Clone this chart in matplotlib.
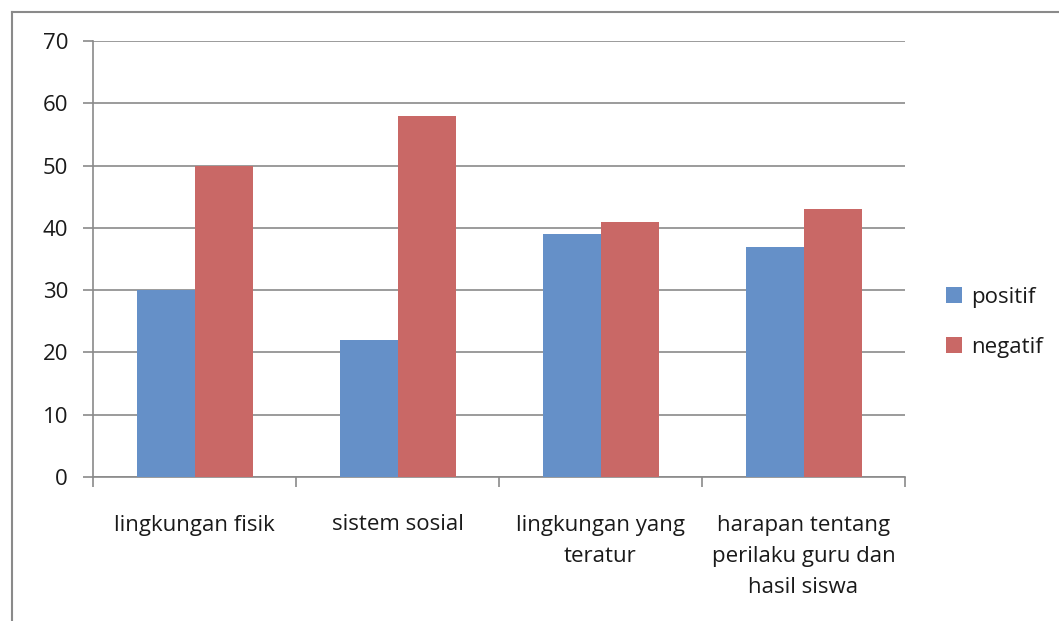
import matplotlib
matplotlib.use("Agg")
import matplotlib.pyplot as plt
import numpy as np
from matplotlib.lines import Line2D

categories = ["lingkungan fisik", "sistem sosial", "lingkungan yang\nteratur",
              "harapan tentang\nperilaku guru dan\nhasil siswa"]
positif = [30, 22, 39, 37]
negatif = [50, 58, 41, 43]
series_names = ["positif", "negatif"]
yticks = [0, 10, 20, 30, 40, 50, 60, 70]

plt.rcParams['font.family'] = ['Open Sans', 'DejaVu Sans']

W, H = 1059, 621
fig = plt.figure(figsize=(W / 100, H / 100), dpi=100)
fig.patch.set_facecolor("white")

# outer chart border (top and left visible)
fig.add_artist(Line2D([12 / W, 1.0], [1 - 12 / H, 1 - 12 / H], transform=fig.transFigure,
                      color="#8a8a8a", lw=1.5))
fig.add_artist(Line2D([12 / W, 12 / W], [0, 1 - 12 / H], transform=fig.transFigure,
                      color="#8a8a8a", lw=1.5))

ax = fig.add_axes([93 / W, 1 - 477 / H, (905 - 93) / W, (477 - 41) / H])
ax.set_facecolor("none")

x = np.arange(len(categories))
bw = 58 / 203
blue = "#6590C8"
red = "#C96866"
ax.bar(x - bw / 2, positif, width=bw, color=blue, label=series_names[0], zorder=3)
ax.bar(x + bw / 2, negatif, width=bw, color=red, label=series_names[1], zorder=3)

ax.set_xlim(-0.5, len(categories) - 0.5)
ax.set_ylim(0, 70)
ax.set_yticks(yticks)
ax.yaxis.grid(True, color="#8a8a8a", lw=1.2, zorder=0)
ax.set_axisbelow(True)

for s in ["top", "right"]:
    ax.spines[s].set_visible(False)
for s in ["left", "bottom"]:
    ax.spines[s].set_color("#8a8a8a")
    ax.spines[s].set_linewidth(1.2)

ax.tick_params(axis="y", length=7, color="#8a8a8a", width=1.2, labelsize=16, pad=11,
               labelcolor="#1a1a1a")
# category boundary ticks
ax.set_xticks(np.arange(len(categories) + 1) - 0.5)
ax.set_xticklabels([])
ax.tick_params(axis="x", length=7, color="#8a8a8a", width=1.2)
ax.set_xticks(x, minor=True)
ax.set_xticklabels(categories, minor=True, fontsize=16, color="#1a1a1a",
                   linespacing=1.65, va="top")
ax.tick_params(axis="x", which="minor", length=0, pad=27)

leg = ax.legend(loc="center left", bbox_to_anchor=(1.04, 0.355), frameon=False,
                fontsize=16, handlelength=0.7, handleheight=0.7, handletextpad=0.4,
                labelspacing=1.3, labelcolor="#1a1a1a", borderaxespad=0)

fig.savefig("out.png", dpi=100, facecolor="white")
